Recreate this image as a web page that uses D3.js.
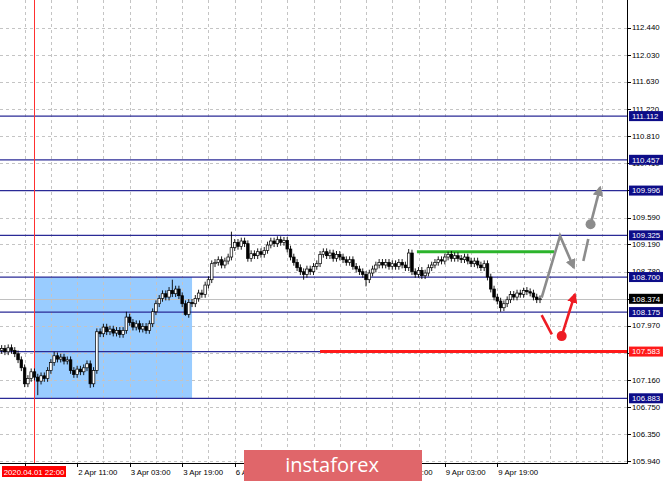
<!DOCTYPE html>
<html>
<head>
<meta charset="utf-8">
<script src="https://cdn.jsdelivr.net/npm/d3@7"></script>
<style>
body { margin: 0; background: #fff; }
svg { display: block; font-family: "Liberation Sans", Arial, sans-serif; }
</style>
</head>
<body>
<svg></svg>
<script>
var width = 665;
var height = 481;
var plotRight = 627;
var plotBottom = 463;

// hourly closes, one per bar (USD/JPY H1)
var closes = [
	107.63, 107.58, 107.64, 107.60, 107.55, 107.46, 107.34, 107.10, 107.18, 107.28,
	107.20, 107.14, 107.22, 107.18, 107.30, 107.42, 107.52, 107.47, 107.50, 107.44,
	107.46, 107.30, 107.24, 107.32, 107.28, 107.34, 107.40, 107.10, 107.30, 107.88,
	107.85, 107.95, 107.88, 107.92, 107.86, 107.90, 107.84, 107.90, 108.10, 108.02,
	107.95, 108.00, 107.92, 107.96, 107.90, 108.00, 108.18, 108.30, 108.38, 108.45,
	108.40, 108.50, 108.45, 108.52, 108.42, 108.30, 108.14, 108.32, 108.30, 108.38,
	108.46, 108.44, 108.58, 108.66, 108.90, 108.92, 108.96, 108.88, 108.94, 109.00,
	109.14, 109.22, 109.16, 109.24, 109.20, 108.98, 109.05, 109.02, 109.08, 109.04,
	109.10, 109.18, 109.24, 109.20, 109.26, 109.22, 109.25, 109.12, 109.00, 108.92,
	108.84, 108.78, 108.74, 108.82, 108.78, 108.86, 108.90, 109.04, 109.08, 109.02,
	109.06, 108.98, 109.04, 109.00, 108.96, 108.92, 108.96, 108.86, 108.82, 108.78,
	108.74, 108.66, 108.76, 108.82, 108.88, 108.92, 108.88, 108.92, 108.86, 108.90,
	108.86, 108.92, 108.88, 108.84, 109.06, 108.78, 108.74, 108.80, 108.72, 108.76,
	108.84, 108.88, 108.92, 108.96, 108.94, 109.00, 109.04, 108.98, 109.02, 108.98,
	108.96, 109.00, 108.94, 108.90, 108.94, 108.88, 108.84, 108.90, 108.70, 108.52,
	108.40, 108.34, 108.24, 108.30, 108.36, 108.44, 108.40, 108.46, 108.44, 108.50,
	108.48, 108.46, 108.40, 108.36, 108.374
];
var firstOpen = 107.60;
// longer shadows: [bar, high, low]
var shadows = [
	[11, null, 106.93], [16, 107.58, null], [27, null, 107.04], [38, 108.18, null],
	[52, 108.66, null], [56, null, 108.12], [70, 109.38, null], [92, null, 108.66],
	[111, null, 108.56], [124, 109.12, null], [136, 109.08, null], [152, null, 108.18],
	[159, 108.54, null]
];
var shadowPad = 0.05;

var priceTicks = [105.94, 106.35, 106.75, 107.16, 107.56, 107.97, 108.37, 108.78, 109.19,
	109.59, 110.00, 110.41, 110.81, 111.22, 111.63, 112.03, 112.44];
var timeBars = [7, 23, 39, 55, 71, 87, 103, 119, 135, 151];
// labels hidden under the date tag and the logo are left blank
var timeLabels = ["", "2 Apr 11:00", "3 Apr 03:00", "3 Apr 19:00", "6 Apr 11:00",
	"", "", "8 Apr 11:00", "9 Apr 03:00", "9 Apr 19:00"];

var levels = [111.112, 110.457, 109.996, 109.325, 108.700, 108.175, 107.583, 106.883];
var bid = 108.374;
var markerBar = 10;
var markerLabel = "2020.04.01 22:00";
var boxBars = [10, 58];
var boxPrices = [106.883, 108.700];
var greenBars = [126.5, 168.3];
var greenPrice = 109.08;
var redStartBar = 97;
var redPrice = 107.583;

// forecast arrows: [bar, price]
var grayPath = [[164.5, 108.39], [170.1, 109.317], [174.3, 108.84]];
var graySeg = [[177.2, 108.94], [178.7, 109.27]];
var grayDot = [179.4, 109.49];
var grayUp = [[179.4, 109.49], [182.3, 110.04]];
var redSeg = [[164.5, 108.13], [167.6, 107.84]];
var redDot = [170.6, 107.815];
var redUp = [[170.6, 107.815], [174.6, 108.44]];

var svg = d3.select("svg")
	.attr("width", width)
	.attr("height", height);

var x = d3.scaleLinear()
	.domain([-0.5, 190.5])
	.range([0, plotRight]);

var y = d3.scaleLinear()
	.domain([105.94, 112.44])
	.range([461.2, 27.5]);

var candles = closes.map(function(c, i) {
	var o = i === 0 ? firstOpen : closes[i - 1];
	var hi = Math.max(o, c) + shadowPad;
	var lo = Math.min(o, c) - shadowPad;
	shadows.forEach(function(s) {
		if (s[0] === i) {
			if (s[1] !== null) hi = s[1];
			if (s[2] !== null) lo = s[2];
		}
	});
	return {i: i, o: o, c: c, h: hi, l: lo};
});

var defs = svg.append("defs");
function marker(id, color) {
	defs.append("marker")
		.attr("id", id)
		.attr("viewBox", "0 0 10 10")
		.attr("refX", 8)
		.attr("refY", 5)
		.attr("markerWidth", 4)
		.attr("markerHeight", 4)
		.attr("markerUnits", "strokeWidth")
		.attr("orient", "auto")
		.append("path")
		.attr("d", "M0,0 L10,5 L0,10 z")
		.attr("fill", color);
}
marker("headGray", "#8c8c8c");
marker("headRed", "#ee1c24");

var plot = svg.append("g");

// rectangle zone
plot.append("rect")
	.attr("x", x(boxBars[0]))
	.attr("y", y(boxPrices[1]))
	.attr("width", x(boxBars[1]) - x(boxBars[0]))
	.attr("height", y(boxPrices[0]) - y(boxPrices[1]))
	.attr("fill", "#99ccff");

// grid
plot.selectAll(".hgrid")
	.data(priceTicks)
	.enter().append("line")
	.attr("x1", 0).attr("x2", plotRight)
	.attr("y1", d => Math.round(y(d)) + 0.5)
	.attr("y2", d => Math.round(y(d)) + 0.5)
	.attr("stroke", "#c4c4c4")
	.attr("stroke-dasharray", "3,3");

plot.selectAll(".vgrid")
	.data(d3.range(7, 190, 8))
	.enter().append("line")
	.attr("x1", d => Math.round(x(d)) + 0.5)
	.attr("x2", d => Math.round(x(d)) + 0.5)
	.attr("y1", 0).attr("y2", plotBottom)
	.attr("stroke", "#c4c4c4")
	.attr("stroke-dasharray", "3,3");

// bid line
plot.append("line")
	.attr("x1", 0).attr("x2", plotRight)
	.attr("y1", Math.round(y(bid)) + 0.5).attr("y2", Math.round(y(bid)) + 0.5)
	.attr("stroke", "#c0c0c0");

// levels
plot.selectAll(".level")
	.data(levels)
	.enter().append("line")
	.attr("x1", 0).attr("x2", plotRight)
	.attr("y1", d => y(d)).attr("y2", d => y(d))
	.attr("stroke", "#2a2a96")
	.attr("stroke-width", 1.2);

plot.append("line")
	.attr("x1", x(redStartBar)).attr("x2", plotRight)
	.attr("y1", y(redPrice)).attr("y2", y(redPrice))
	.attr("stroke", "#ff1a1a")
	.attr("stroke-width", 3);

plot.append("line")
	.attr("x1", x(greenBars[0])).attr("x2", x(greenBars[1]))
	.attr("y1", y(greenPrice)).attr("y2", y(greenPrice))
	.attr("stroke", "#2cb42c")
	.attr("stroke-width", 3);

// vertical marker
plot.append("line")
	.attr("x1", Math.round(x(markerBar)) + 0.5).attr("x2", Math.round(x(markerBar)) + 0.5)
	.attr("y1", 0).attr("y2", plotBottom)
	.attr("stroke", "#ff3030");

// candles
var cg = plot.append("g");
cg.selectAll(".wick")
	.data(candles)
	.enter().append("line")
	.attr("x1", d => x(d.i)).attr("x2", d => x(d.i))
	.attr("y1", d => y(d.h)).attr("y2", d => y(d.l))
	.attr("stroke", "#000")
	.attr("stroke-width", 0.9);

cg.selectAll(".body")
	.data(candles)
	.enter().append("rect")
	.attr("x", d => x(d.i) - 1.3)
	.attr("width", 2.6)
	.attr("y", d => y(Math.max(d.o, d.c)))
	.attr("height", d => Math.max(0.8, Math.abs(y(d.o) - y(d.c))))
	.attr("fill", d => d.c >= d.o ? "#fff" : "#000")
	.attr("stroke", "#000")
	.attr("stroke-width", 0.7);

// forecast arrows
var line = d3.line().x(d => x(d[0])).y(d => y(d[1]));

plot.append("path")
	.attr("d", line(grayPath))
	.attr("fill", "none")
	.attr("stroke", "#8c8c8c")
	.attr("stroke-width", 2.6)
	.attr("marker-end", "url(#headGray)");
plot.append("path")
	.attr("d", line(graySeg))
	.attr("fill", "none")
	.attr("stroke", "#8c8c8c")
	.attr("stroke-width", 2.6);
plot.append("path")
	.attr("d", line(grayUp))
	.attr("fill", "none")
	.attr("stroke", "#8c8c8c")
	.attr("stroke-width", 2.6)
	.attr("marker-end", "url(#headGray)");
plot.append("circle")
	.attr("cx", x(grayDot[0])).attr("cy", y(grayDot[1]))
	.attr("r", 5)
	.attr("fill", "#8c8c8c");

plot.append("path")
	.attr("d", line(redSeg))
	.attr("fill", "none")
	.attr("stroke", "#ee1c24")
	.attr("stroke-width", 2.6);
plot.append("path")
	.attr("d", line(redUp))
	.attr("fill", "none")
	.attr("stroke", "#ee1c24")
	.attr("stroke-width", 2.6)
	.attr("marker-end", "url(#headRed)");
plot.append("circle")
	.attr("cx", x(redDot[0])).attr("cy", y(redDot[1]))
	.attr("r", 5)
	.attr("fill", "#ee1c24");

// axes frame
svg.append("line")
	.attr("x1", plotRight + 0.5).attr("x2", plotRight + 0.5)
	.attr("y1", 0).attr("y2", plotBottom)
	.attr("stroke", "#000");
svg.append("line")
	.attr("x1", 0).attr("x2", plotRight + 1)
	.attr("y1", plotBottom + 0.5).attr("y2", plotBottom + 0.5)
	.attr("stroke", "#000");

// price scale
var py = svg.append("g");
py.selectAll("line")
	.data(priceTicks)
	.enter().append("line")
	.attr("x1", plotRight).attr("x2", plotRight + 4)
	.attr("y1", d => Math.round(y(d)) + 0.5).attr("y2", d => Math.round(y(d)) + 0.5)
	.attr("stroke", "#000");
py.selectAll("text")
	.data(priceTicks)
	.enter().append("text")
	.attr("x", plotRight + 5)
	.attr("y", d => y(d))
	.attr("dy", "0.35em")
	.style("font-size", "7.8px")
	.attr("fill", "#000")
	.text(d => d3.format(".3f")(d));

// price labels of objects
function priceTag(val, color) {
	var g = svg.append("g").attr("transform", `translate(${plotRight + 2}, ${y(val)})`);
	g.append("rect")
		.attr("x", 0).attr("y", -5)
		.attr("width", 34).attr("height", 10)
		.attr("fill", color);
	g.append("text")
		.attr("x", 3).attr("y", 0).attr("dy", "0.35em")
		.style("font-size", "7.8px")
		.attr("fill", "#fff")
		.text(d3.format(".3f")(val));
}
levels.forEach(function(v) {
	priceTag(v, v === redPrice ? "#ff1a1a" : "#0d0d88");
});
priceTag(bid, "#000");

// time scale
var tx = svg.append("g");
tx.selectAll("line")
	.data(timeBars)
	.enter().append("line")
	.attr("x1", d => Math.round(x(d)) + 0.5).attr("x2", d => Math.round(x(d)) + 0.5)
	.attr("y1", plotBottom).attr("y2", plotBottom + 4)
	.attr("stroke", "#000");
tx.selectAll("text")
	.data(timeBars)
	.enter().append("text")
	.attr("x", d => x(d) + 1)
	.attr("y", 475)
	.style("font-size", "7.8px")
	.attr("fill", "#000")
	.text((d, i) => timeLabels[i]);

tx.append("rect")
	.attr("x", 2).attr("y", 466)
	.attr("width", 64).attr("height", 11)
	.attr("fill", "#ff0000");
tx.append("text")
	.attr("x", 34).attr("y", 475)
	.style("font-size", "7.8px")
	.style("text-anchor", "middle")
	.attr("fill", "#fff")
	.text(markerLabel);

// watermark
svg.append("rect")
	.attr("x", 244).attr("y", 450)
	.attr("width", 178).attr("height", 31)
	.attr("fill", "#e0666a");
svg.append("text")
	.attr("x", 332).attr("y", 472)
	.style("text-anchor", "middle")
	.style("font-family", "'Open Sans', sans-serif")
	.style("font-size", "20px")
	.attr("fill", "#fff")
	.text("instaforex");
</script>
</body>
</html>
